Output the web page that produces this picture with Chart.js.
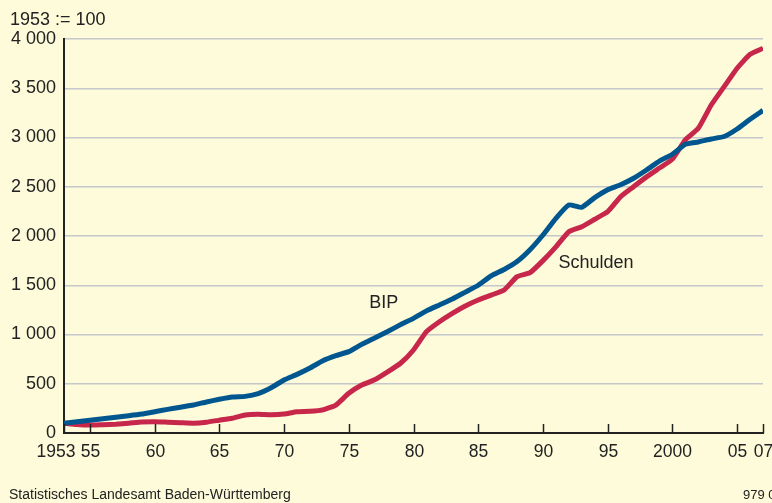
<!DOCTYPE html>
<html lang="de">
<head>
<meta charset="utf-8">
<title>BIP und Schulden</title>
<script src="https://cdn.jsdelivr.net/npm/chart.js@4.4.1/dist/chart.umd.min.js"></script>
<style>
    html, body { margin: 0; padding: 0; background: #fdfbda; }
    #wrap { position: relative; width: 772px; height: 503px; }
</style>
</head>
<body>
<div id="wrap"><canvas id="debtChart"></canvas></div>
<script>
/* ===============================
   DATA (1953 := 100)
================================ */
const years = [
    1953, 1954, 1955, 1956, 1957, 1958, 1959, 1960, 1961, 1962,
    1963, 1964, 1965, 1966, 1967, 1968, 1969, 1970, 1971, 1972,
    1973, 1974, 1975, 1976, 1977, 1978, 1979, 1980, 1981, 1982,
    1983, 1984, 1985, 1986, 1987, 1988, 1989, 1990, 1991, 1992,
    1993, 1994, 1995, 1996, 1997, 1998, 1999, 2000, 2001, 2002,
    2003, 2004, 2005, 2006, 2007
];
const bip = [
    100, 115, 130, 145, 160, 175, 192, 216, 240, 262,
    284, 315, 342, 365, 372, 400, 460, 538, 595, 660,
    734, 785, 826, 900, 965, 1030, 1100, 1164, 1240, 1300,
    1360, 1430, 1500, 1595, 1660, 1740, 1860, 2010, 2180, 2315,
    2291, 2390, 2470, 2520, 2586, 2670, 2760, 2830, 2931, 2955,
    2985, 3010, 3086, 3185, 3275
];
const schulden = [
    100, 85, 80, 85, 90, 100, 112, 115, 110, 105,
    100, 110, 130, 150, 183, 190, 185, 193, 216, 220,
    235, 284, 403, 487, 540, 620, 708, 843, 1029, 1130,
    1215, 1290, 1350, 1400, 1452, 1587, 1627, 1750, 1890, 2044,
    2094, 2170, 2247, 2399, 2500, 2600, 2690, 2780, 2975, 3093,
    3330, 3516, 3703, 3845, 3906
];
const tickYears = [1953, 1955, 1960, 1965, 1970, 1975, 1980, 1985, 1990, 1995, 2000, 2005, 2007];
const tickLabels = ["1953", "55", "60", "65", "70", "75", "80", "85", "90", "95", "2000", "05", "07"];
const seriesNames = ["BIP", "Schulden"];

/* ===============================
   STYLE
================================ */
const BG = "#fdfbda";
const FONT = "'Liberation Sans', Arial, sans-serif";
const INK = "#222222";

const paper = {
    id: "paper",
    beforeDraw(chart) {
        const c = chart.ctx;
        c.save();
        c.fillStyle = BG;
        c.fillRect(0, 0, chart.width, chart.height);
        c.restore();
    }
};

// x ticks point up into the plot, labels drawn by hand
const decor = {
    id: "decor",
    afterDraw(chart) {
        const c = chart.ctx;
        const xs = chart.scales.x;
        const ys = chart.scales.y;
        const bottom = chart.chartArea.bottom;
        c.save();
        c.strokeStyle = INK;
        c.lineWidth = 1.5;
        c.fillStyle = INK;
        c.font = "17.5px " + FONT;
        c.textBaseline = "middle";
        tickYears.forEach((yr, i) => {
            const px = Math.round(xs.getPixelForValue(yr)) + 0.5;
            c.beginPath();
            c.moveTo(px, bottom - 9);
            c.lineTo(px, bottom);
            c.stroke();
            if (i === 0) {
                c.textAlign = "right";
                c.fillText(tickLabels[i], px + 11, 452);
            } else {
                c.textAlign = "center";
                c.fillText(tickLabels[i], px, 452);
            }
        });

        // header + series labels
        c.font = "18px " + FONT;
        c.textAlign = "left";
        c.textBaseline = "alphabetic";
        c.fillText("1953 := 100", 10, 25);
        c.textAlign = "center";
        c.fillText(seriesNames[0], xs.getPixelForValue(1977.7), ys.getPixelForValue(1265));
        c.textAlign = "left";
        c.fillText(seriesNames[1], xs.getPixelForValue(1991.2), ys.getPixelForValue(1675));

        // footer
        c.font = "14px " + FONT;
        c.fillText("Statistisches Landesamt Baden-Württemberg", 9, 499);
        c.font = "13px " + FONT;
        c.fillText("979 08", 743, 499);
        c.restore();
    }
};

/* ===============================
   CHART
================================ */
document.addEventListener("DOMContentLoaded", () => {
    const ctx = document.getElementById("debtChart").getContext("2d");

    new Chart(ctx, {
        type: "line",
        data: {
            datasets: [{
                label: seriesNames[0],
                data: years.map((y, i) => ({ x: y, y: bip[i] })),
                borderColor: "#00568f",
                borderWidth: 5,
                pointRadius: 0,
                tension: 0.15,
                borderJoinStyle: "round",
                borderCapStyle: "butt"
            }, {
                label: seriesNames[1],
                data: years.map((y, i) => ({ x: y, y: schulden[i] })),
                borderColor: "#c6274b",
                borderWidth: 5,
                pointRadius: 0,
                tension: 0.15,
                borderJoinStyle: "round",
                borderCapStyle: "butt"
            }]
        },
        options: {
            responsive: true,
            maintainAspectRatio: false,
            animation: false,
            layout: { padding: { left: 0, right: 9, top: 39, bottom: 0 } },
            plugins: {
                legend: { display: false },
                tooltip: { enabled: false }
            },
            scales: {
                x: {
                    type: "linear",
                    min: 1953,
                    max: 2007,
                    afterFit: s => { s.height = 70; },
                    ticks: { display: false },
                    grid: { display: false },
                    border: { display: true, color: INK, width: 2 }
                },
                y: {
                    min: 0,
                    max: 4000,
                    afterFit: s => { s.width = 64; },
                    ticks: {
                        stepSize: 500,
                        padding: 8,
                        color: INK,
                        font: { family: FONT, size: 18 },
                        callback: v => v >= 1000 ? Math.floor(v / 1000) + " " + String(v % 1000).padStart(3, "0") : String(v)
                    },
                    grid: { color: "#c6c7cb", lineWidth: 1.5, drawTicks: false },
                    border: { display: true, color: INK, width: 2 }
                }
            }
        },
        plugins: [paper, decor]
    });
});
</script>
</body>
</html>
